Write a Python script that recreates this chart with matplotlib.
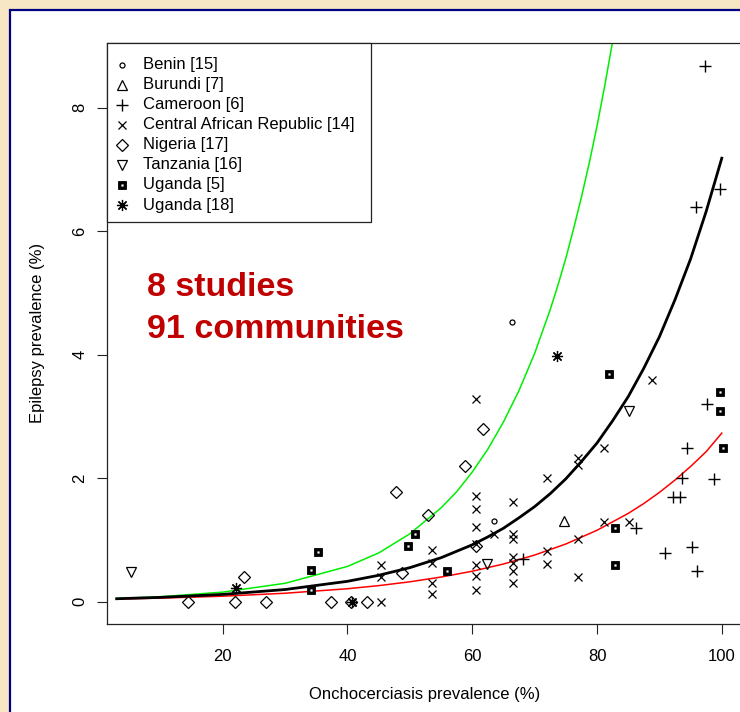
import matplotlib
matplotlib.use('Agg')
import matplotlib.pyplot as plt
from matplotlib.patches import Rectangle
from matplotlib.lines import Line2D

plt.rcParams['font.family'] = ['Liberation Sans', 'DejaVu Sans']

# ---------------- data ----------------
benin_x = [66.3, 63.5]
benin_y = [4.53, 1.30]

burundi_x = [74.7]
burundi_y = [1.31]

cameroon_x = [97.3, 99.7, 95.8, 97.6, 94.4, 93.6, 98.7, 92.2, 93.3, 86.2, 90.9, 95.2, 96.0, 68.1]
cameroon_y = [8.68, 6.68, 6.39, 3.20, 2.49, 2.00, 1.98, 1.69, 1.69, 1.19, 0.79, 0.89, 0.50, 0.69]

car_x = [60.6, 88.8, 81.1, 76.9, 76.9, 72.0, 81.1, 85.1, 76.9, 72.0, 72.0, 76.9,
         60.6, 60.6, 60.6, 60.6, 60.6, 60.6, 60.6,
         66.5, 66.5, 66.5, 66.5, 66.5, 66.5, 66.5,
         63.5, 53.6, 53.6, 53.6, 53.6, 45.3, 45.3, 45.3]
car_y = [3.29, 3.59, 2.49, 2.32, 2.22, 2.00, 1.29, 1.29, 1.01, 0.82, 0.61, 0.40,
         1.71, 1.50, 1.21, 0.93, 0.60, 0.42, 0.19,
         1.61, 1.10, 1.02, 0.72, 0.62, 0.50, 0.30,
         1.10, 0.84, 0.62, 0.31, 0.12, 0.60, 0.40, 0.00]

nigeria_x = [14.4, 22.0, 26.9, 37.3, 40.6, 43.2, 23.4, 47.8, 52.9, 58.8, 61.7, 48.7, 60.6]
nigeria_y = [0.00, 0.00, 0.00, 0.00, 0.00, 0.00, 0.40, 1.78, 1.40, 2.20, 2.79, 0.46, 0.90]

tanzania_x = [5.3, 85.1, 62.3]
tanzania_y = [0.48, 3.09, 0.61]

uganda5_x = [35.3, 34.1, 34.1, 50.8, 49.7, 55.9, 81.9, 99.7, 99.7, 100.2, 82.9, 82.9]
uganda5_y = [0.80, 0.51, 0.19, 1.09, 0.90, 0.50, 3.69, 3.39, 3.09, 2.49, 1.19, 0.60]

uganda18_x = [73.6, 22.1, 40.7]
uganda18_y = [3.98, 0.22, 0.00]

labels = ['Benin [15]', 'Burundi [7]', 'Cameroon [6]', 'Central African Republic [14]',
          'Nigeria [17]', 'Tanzania [16]', 'Uganda [5]', 'Uganda [18]']

# fitted curves
black_x = [3, 10, 20, 30, 40, 45, 50, 55, 60, 62.5, 65, 67.5, 70, 72.5, 75, 77.5, 80,
           82.5, 85, 87.5, 90, 92.5, 95, 97.5, 100]
black_y = [0.049, 0.071, 0.119, 0.198, 0.331, 0.428, 0.552, 0.713, 0.922, 1.05, 1.19, 1.36,
           1.54, 1.75, 1.99, 2.27, 2.57, 2.93, 3.32, 3.78, 4.29, 4.89, 5.55, 6.32, 7.18]
red_x = [3, 10, 20, 30, 40, 45, 50, 55, 60, 65, 70, 75, 80, 85, 87.5, 90, 92.5, 95, 97.5, 100]
red_y = [0.044, 0.059, 0.090, 0.138, 0.211, 0.261, 0.323, 0.40, 0.494, 0.611, 0.756, 0.935,
         1.157, 1.43, 1.59, 1.77, 1.97, 2.19, 2.43, 2.73]
green_x = [3, 10, 20, 30, 40, 45, 50, 55, 57.5, 60, 62.5, 65, 67.5, 70, 72.5, 73.75, 75,
           76.25, 77.5, 78.75, 80, 81.25, 82.5, 83.75]
green_y = [0.052, 0.081, 0.156, 0.299, 0.572, 0.79, 1.10, 1.52, 1.78, 2.10, 2.47, 2.91,
           3.42, 4.02, 4.73, 5.13, 5.56, 6.04, 6.55, 7.10, 7.70, 8.36, 9.07, 9.83]

x_ticks = [20, 40, 60, 80, 100]
y_ticks = [0, 2, 4, 6, 8]

# ---------------- styles ----------------
K = 'black'
styles = [
    dict(marker='o', ms=3.6, mfc='none', mec=K, mew=0.9),
    dict(marker='^', ms=6.5, mfc='none', mec=K, mew=0.9),
    dict(marker='+', ms=8.5, mec=K, mew=1.0),
    dict(marker='x', ms=5.5, mec=K, mew=0.9),
    dict(marker='D', ms=5.8, mfc='none', mec=K, mew=0.9),
    dict(marker='v', ms=7.0, mfc='none', mec=K, mew=0.9),
    dict(marker='s', ms=6.2, mfc=K, mec=K, mew=0.6),
    dict(marker=(8, 2, 0), ms=8.0, mec=K, mew=0.9),
]
groups = [(benin_x, benin_y), (burundi_x, burundi_y), (cameroon_x, cameroon_y),
          (car_x, car_y), (nigeria_x, nigeria_y), (tanzania_x, tanzania_y),
          (uganda5_x, uganda5_y), (uganda18_x, uganda18_y)]

W, H = 740, 712
def fx(px):
    return px / W
def fy(py):
    return 1 - py / H

fig = plt.figure(figsize=(7.4, 7.12), dpi=100, facecolor='#F8E7C4')

panel = Rectangle((fx(10), -0.05), 1.2, fy(10) + 0.05, transform=fig.transFigure,
                  facecolor='white', edgecolor='#000080', lw=1.6, zorder=-1)
fig.patches.append(panel)

ax = fig.add_axes([fx(107.3), fy(624), fx(743) - fx(107.3), fy(43.3) - fy(624)])
ax.set_facecolor('white')
ax.set_xlim(1.5, 103.4)
ax.set_ylim(-0.36, 9.04)

for (gx, gy), st in zip(groups, styles):
    ax.plot(gx, gy, ls='none', zorder=3, **st)
# inner white dot of Uganda [5] squares
ax.plot(uganda5_x, uganda5_y, ls='none', marker='s', ms=1.2, mfc='white', mec='white',
        mew=0.3, zorder=4)

ax.plot(green_x, green_y, color='#00EE00', lw=1.1, zorder=2)
ax.plot(red_x, red_y, color='#FF0000', lw=1.1, zorder=2)
ax.plot(black_x, black_y, color='black', lw=2.0, zorder=2)

ax.set_xticks(x_ticks)
ax.set_yticks(y_ticks)
ax.set_xticklabels([str(v) for v in x_ticks])
ax.set_yticklabels([str(v) for v in y_ticks])
ax.tick_params(direction='out', length=7.2, width=0.8, labelsize=12, color='#222')
ax.tick_params(axis='x', pad=11)
ax.tick_params(axis='y', pad=7, labelrotation=90)
for lbl in ax.get_yticklabels():
    lbl.set_va('center')
for s in ax.spines.values():
    s.set_color('#222')
    s.set_linewidth(0.9)

# legend box
leg = Rectangle((fx(107.3), fy(222)), fx(371) - fx(107.3), fy(43.3) - fy(222),
                transform=fig.transFigure, facecolor='white', edgecolor='#222', lw=0.9, zorder=5)
fig.add_artist(leg)
for i, (lab, st) in enumerate(zip(labels, styles)):
    ypx = 65 + 20 * i
    fig.add_artist(Line2D([fx(122)], [fy(ypx)], transform=fig.transFigure, ls='none',
                          zorder=6, **st))
    if i == 6:
        fig.add_artist(Line2D([fx(122)], [fy(ypx)], transform=fig.transFigure, ls='none',
                              marker='s', ms=1.2, mfc='white', mec='white', mew=0.3, zorder=7))
    fig.text(fx(143), fy(ypx), lab, fontsize=12, va='center', ha='left', zorder=6)

fig.text(fx(147), fy(296), '8 studies', color='#C00000', fontsize=24.5,
         fontweight='bold', va='baseline', ha='left')
fig.text(fx(147), fy(338), '91 communities', color='#C00000', fontsize=24.5,
         fontweight='bold', va='baseline', ha='left')

fig.text(fx(425), fy(695), 'Onchocerciasis prevalence (%)', ha='center', va='center', fontsize=12)
fig.text(fx(38), fy(333), 'Epilepsy prevalence (%)', ha='center', va='center',
         rotation=90, fontsize=12)

fig.savefig('out.png', dpi=100, facecolor=fig.get_facecolor())
